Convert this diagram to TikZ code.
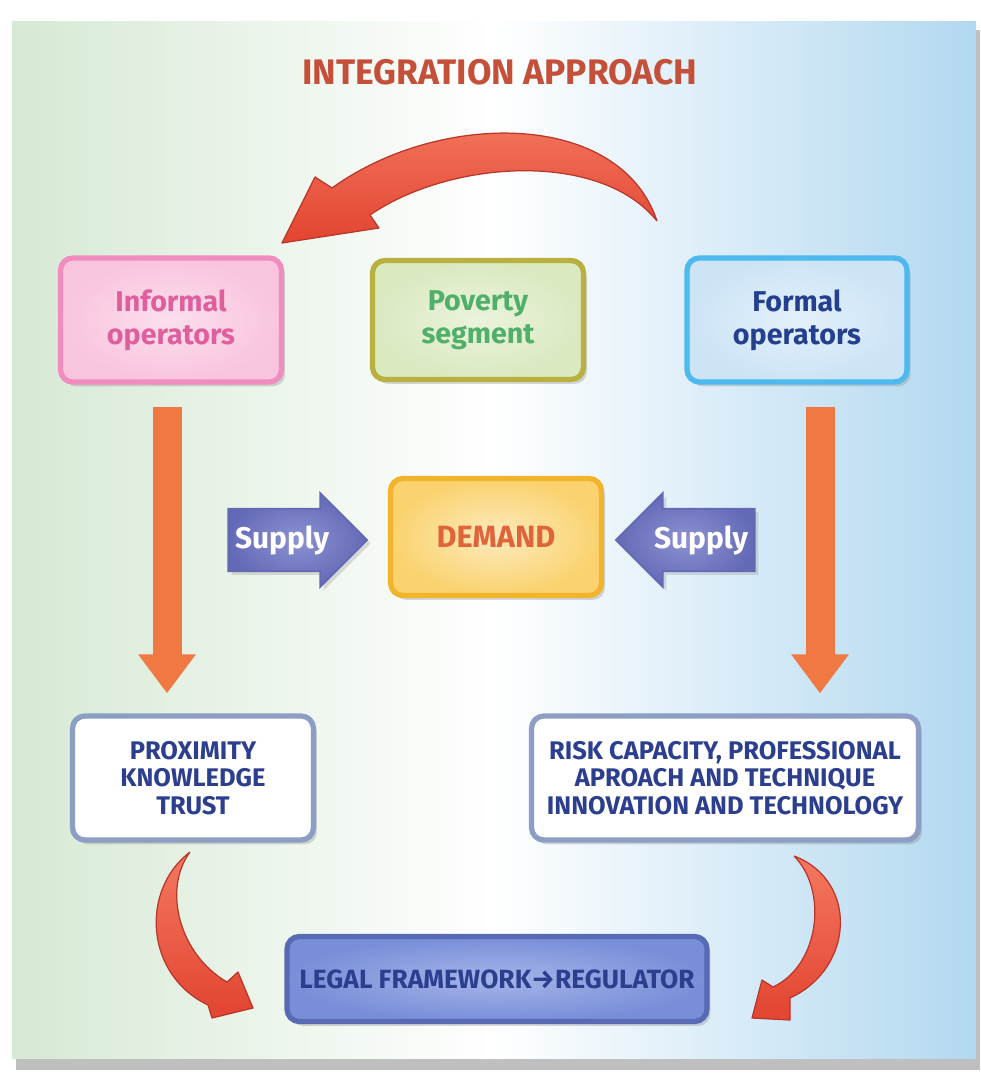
\documentclass[tikz,border=0pt]{standalone}
\usepackage{fontspec}
\setmainfont{Fira Sans}
\usepackage{tikz}
\usepackage{xcolor}
\usetikzlibrary{shapes.arrows, arrows.meta, shadows}
\definecolor{bggreen}{RGB}{214,233,212}
\definecolor{bgblue}{RGB}{178,216,240}
\definecolor{titlered}{RGB}{196,80,58}
\definecolor{infofill}{RGB}{249,196,222}
\definecolor{infoedge}{RGB}{240,140,190}
\definecolor{infotext}{RGB}{222,95,156}
\definecolor{povfill}{RGB}{218,233,192}
\definecolor{povedge}{RGB}{185,176,64}
\definecolor{povtext}{RGB}{80,176,106}
\definecolor{formfill}{RGB}{204,228,246}
\definecolor{formedge}{RGB}{78,185,236}
\definecolor{formtext}{RGB}{35,63,142}
\definecolor{demfill}{RGB}{250,210,110}
\definecolor{demedge}{RGB}{242,180,45}
\definecolor{demtext}{RGB}{224,100,58}
\definecolor{supfill}{RGB}{100,105,182}
\definecolor{suplight}{RGB}{140,146,210}
\definecolor{resedge}{RGB}{140,158,196}
\definecolor{restext}{RGB}{44,62,142}
\definecolor{legfill}{RGB}{120,142,216}
\definecolor{leglight}{RGB}{165,180,232}
\definecolor{legedge}{RGB}{88,106,180}
\definecolor{downcolor}{RGB}{240,120,66}
\definecolor{bendtop}{RGB}{244,120,96}
\definecolor{bendbot}{RGB}{226,68,48}
\definecolor{bendedge}{RGB}{184,54,42}
\tikzstyle{opbox} = [rectangle, draw, rounded corners=7pt, line width=3pt, align=center, font=\fontsize{16.3}{18.7}\selectfont\bfseries, drop shadow={shadow xshift=2pt, shadow yshift=-2.5pt, opacity=0.3}]
\tikzstyle{resultbox} = [opbox, draw=resedge, fill=white, text=restext, minimum height=2.48cm, font=\fontsize{14.5}{15.6}\selectfont\bfseries]
\tikzstyle{supply} = [single arrow, draw=supfill, line width=1pt, inner color=suplight, outer color=supfill, minimum height=2.78cm, minimum width=1.88cm, single arrow head extend=0.19cm, inner sep=2pt, text=white, font=\fontsize{17}{19}\selectfont\bfseries, drop shadow={shadow xshift=2pt, shadow yshift=-2pt, opacity=0.25}]
\tikzstyle{downarrow} = [line width=0.58cm, draw=downcolor, -{Triangle[width=1.1cm, length=0.78cm]}]
\tikzstyle{bendarrow} = [top color=bendtop, bottom color=bendbot, draw=bendedge, line width=0.7pt, line join=round]

\begin{document}
\begin{tikzpicture}[x=0.02cm, y=-0.02cm]
    \useasboundingbox (0,0) rectangle (980,1077);
    \fill[white] (0,0) rectangle (980,1077);

    % Background panel
    \fill[black!25] (16,30) rectangle (980,1070);
    \shade[left color=bggreen, right color=bgblue, middle color=white] (12,22) rectangle (976,1058);

    \node[font=\fontsize{20.2}{22}\selectfont\bfseries, text=titlered] (title) at (500,72) {INTEGRATION APPROACH};

    % Top row
    \node[opbox, draw=infoedge, inner color=infofill!55!white, outer color=infofill, text=infotext, minimum width=4.42cm, minimum height=2.48cm] (informal) at (171,320) {Informal\\operators};
    \node[opbox, draw=povedge, inner color=povfill!55!white, outer color=povfill, text=povtext, minimum width=4.22cm, minimum height=2.38cm] (poverty) at (478,320) {Poverty\\segment};
    \node[opbox, draw=formedge, inner color=formfill!55!white, outer color=formfill, text=formtext, minimum width=4.4cm, minimum height=2.48cm] (formal) at (797,320) {Formal\\operators};

    % Middle row
    \node[opbox, draw=demedge, inner color=demfill!45!white, outer color=demfill, text=demtext, minimum width=4.22cm, minimum height=2.34cm, font=\fontsize{17.5}{19}\selectfont\bfseries] (demand) at (496,537) {DEMAND};
    \node[supply] (supplyL) at (282,540) {Supply};
    \node[supply, shape border rotate=180] (supplyR) at (701,540) {Supply};

    % Bottom row
    \node[resultbox, minimum width=4.82cm] (proximity) at (193,778) {PROXIMITY\\KNOWLEDGE\\TRUST};
    \node[resultbox, minimum width=7.74cm] (risk) at (725,778) {RISK CAPACITY, PROFESSIONAL\\APROACH AND TECHNIQUE\\INNOVATION AND TECHNOLOGY};
    \node[opbox, draw=legedge, inner color=leglight, outer color=legfill, text=restext, minimum width=8.4cm, minimum height=1.7cm, font=\fontsize{15}{16}\selectfont\bfseries] (legal) at (497,979) {LEGAL FRAMEWORK→REGULATOR};

    % Straight arrows down
    \draw[downarrow] ([xshift=-0.08cm, yshift=-0.44cm]informal.south) -- ([xshift=-0.08cm, yshift=0.4cm]informal.south |- proximity.north);
    \draw[downarrow] ([xshift=0.46cm, yshift=-0.44cm]formal.south) -- ([xshift=0.46cm, yshift=0.4cm]formal.south |- risk.north);

    % Curved arrows
    \coordinate (topTail) at (657,221);
    \coordinate (topTip) at (282,243);
    \shadedraw[bendarrow] (topTail) .. controls (620,110) and (440,110) .. (332,188) -- (315,177) -- (topTip) -- (379,228) -- (370,215) .. controls (450,160) and (600,150) .. (topTail);

    \coordinate (leftTail) at (190,852);
    \coordinate (leftTip) at (253,1008);
    \shadedraw[bendarrow] (leftTail) .. controls (140,890) and (145,975) .. (208,1005) -- (212,1018) -- (leftTip) -- (238,972) -- (227,982) .. controls (180,955) and (162,890) .. (leftTail);

    \coordinate (rightTail) at (794,856);
    \coordinate (rightTip) at (752,1018);
    \shadedraw[bendarrow] (rightTail) .. controls (858,880) and (855,968) .. (790,998) -- (790,1020) -- (rightTip) -- (762,980) -- (773,987) .. controls (820,965) and (828,890) .. (rightTail);

\end{tikzpicture}
\end{document}
